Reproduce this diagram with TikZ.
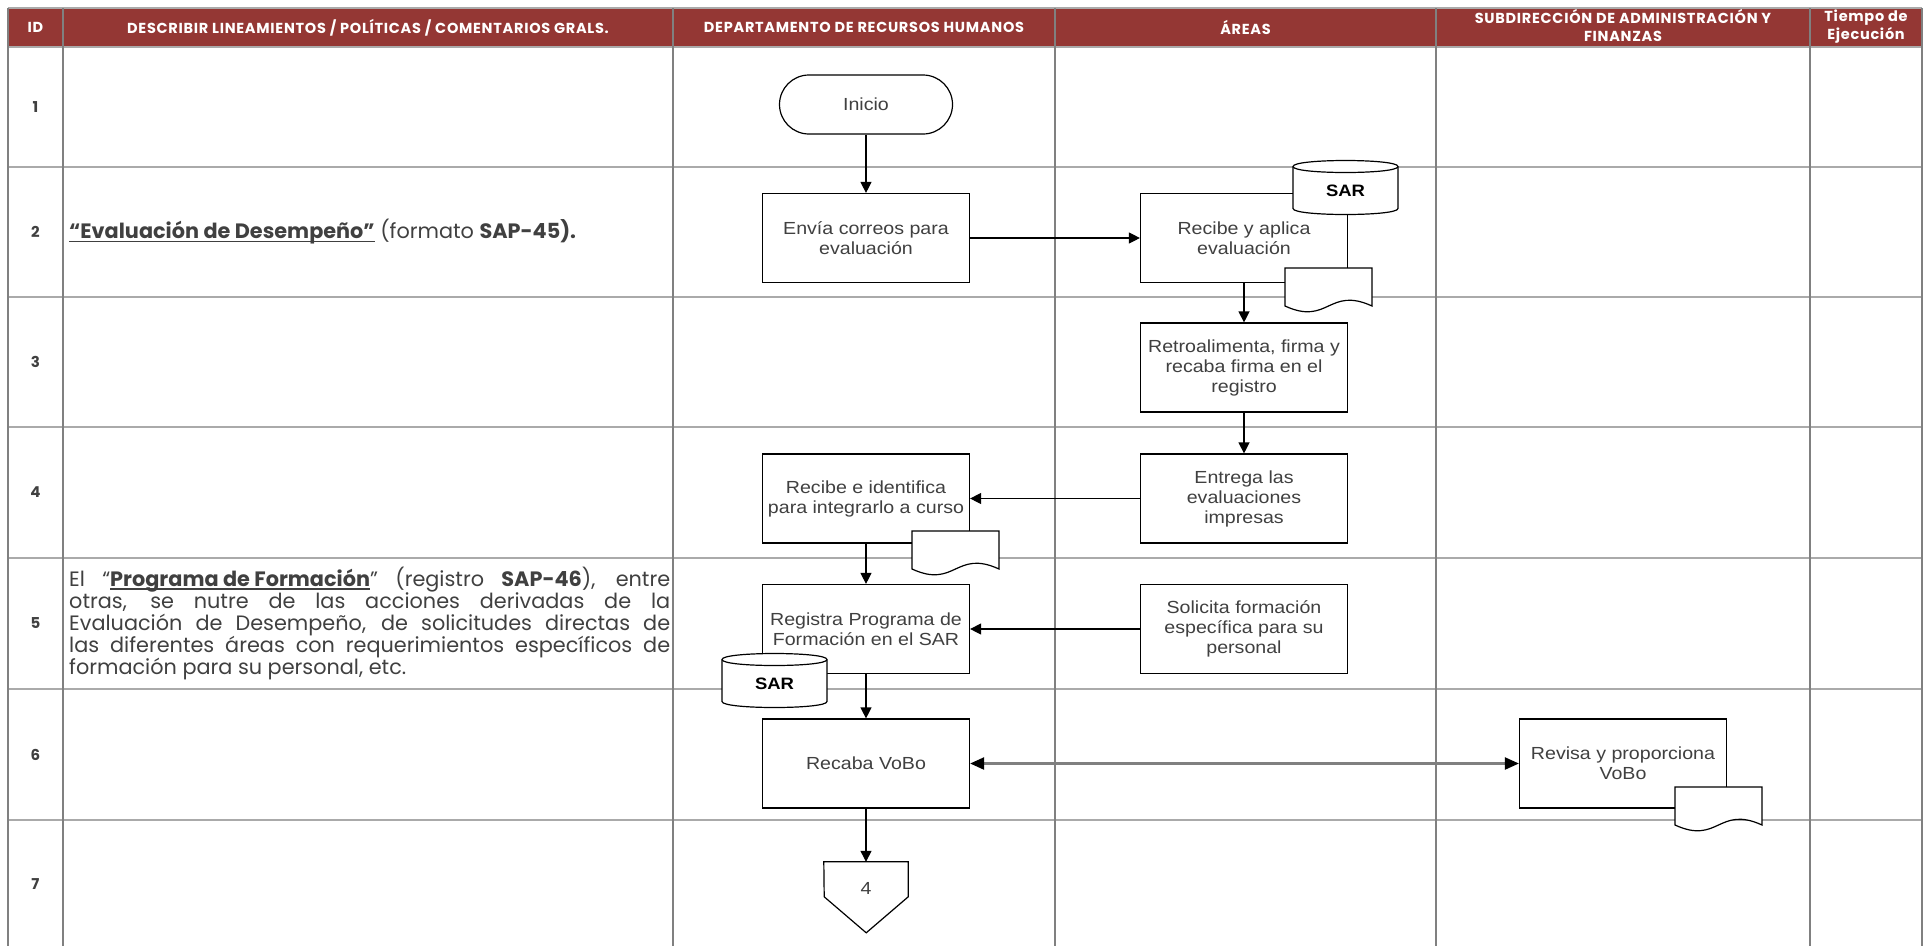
\documentclass[tikz,border=0pt]{standalone}
\usepackage{fontspec}
\usetikzlibrary{positioning,calc,arrows.meta}
\newfontfamily\gothfont{Poppins}
\newfontfamily\hdrfont[LetterSpace=5]{Poppins}
\newfontfamily\flowfont[FakeStretch=1.12]{Liberation Sans}
\definecolor{hdrred}{RGB}{148,55,52}
\definecolor{gridgray}{RGB}{128,128,128}
\definecolor{rowgray}{RGB}{170,170,170}
\definecolor{txtgray}{RGB}{64,64,64}
% underline that sits just under the baseline
\newcommand\ulbold[1]{\setbox0=\hbox{\textbf{#1}}\rlap{\rule[-3pt]{\wd0}{1.3pt}}\box0\relax}

\begin{document}
\begin{tikzpicture}[
  x=1pt, y=-1pt,
  font=\flowfont\fontsize{17.5}{20}\selectfont,
  colline/.style={gridgray, line width=1.2pt},
  rowline/.style={rowgray, line width=1.6pt},
  hdr/.style={text=white, font=\hdrfont\bfseries\fontsize{14.5}{18}\selectfont, align=center, inner sep=0pt},
  idnum/.style={text=txtgray, font=\gothfont\bfseries\fontsize{15}{18}\selectfont, inner sep=0pt},
  desc/.style={text=txtgray, font=\gothfont\fontsize{20.8}{22}\selectfont, anchor=west, inner sep=0pt},
  outl/.style={draw=black, line width=1.2pt, fill=white},
  proc/.style={outl, text=txtgray, align=center, minimum width=207pt, minimum height=89pt, inner sep=1pt},
  term/.style={proc, rounded corners=29.5pt, minimum width=173pt, minimum height=59pt},
  offp/.style={text=txtgray, minimum width=84pt, minimum height=52pt, inner sep=0pt},
  dblabel/.style={text=black, font=\flowfont\bfseries\fontsize{16.5}{20}\selectfont, inner sep=0pt},
  arr/.style={-{Triangle[length=11pt, width=11pt]}, black, line width=1.2pt},
  dblarr/.style={{Triangle[length=14pt, width=12pt, color=black]}-{Triangle[length=14pt, width=12pt, color=black]}, black!50, line width=2.2pt},
  pics/sarcyl/.style={code={
    \draw[outl] (-52.5,-21) -- (-52.5,21) .. controls (-52.5,29) and (52.5,29) .. (52.5,21)
      -- (52.5,-21) .. controls (52.5,-29) and (-52.5,-29) .. (-52.5,-21) -- cycle;
    \draw[outl, fill=none] (-52.5,-21) .. controls (-52.5,-13) and (52.5,-13) .. (52.5,-21);
    \node[dblabel] (-lbl) at (0,3) {SAR};
  }},
  pics/docpage/.style={code={
    \draw[outl] (-43.5,-19) -- (43.5,-19) -- (43.5,19) .. controls (0,-1) and (0,39) .. (-43.5,19) -- cycle;
  }},
]
\useasboundingbox (0,0) rectangle (1929,946);
% ---- header band ----
\fill[hdrred] (8,8) rectangle (1922,47);
\node[hdr] (hid) at (35.5,27.5) {ID};
\node[hdr] (hdesc) at (368,27.5) {DESCRIBIR LINEAMIENTOS / POLÍTICAS / COMENTARIOS GRALS.};
\node[hdr] (hrh) at (864,27.5) {DEPARTAMENTO DE RECURSOS HUMANOS};
\node[hdr] (hareas) at (1245.5,27.5) {ÁREAS};
\node[hdr] (hsaf) at (1623,25.5) {SUBDIRECCIÓN DE ADMINISTRACIÓN Y\\ FINANZAS};
\node[hdr] (htiempo) at (1866,26.5) {Tiempo de\\ Ejecución};
% ---- grid ----
\draw[rowline] (8,8) -- (1922,8);
\draw[rowline] (8,47) -- (1922,47);
\draw[rowline] (8,167) -- (1922,167);
\draw[rowline] (8,297) -- (1922,297);
\draw[rowline] (8,427) -- (1922,427);
\draw[rowline] (8,558) -- (1922,558);
\draw[rowline] (8,689) -- (1922,689);
\draw[rowline] (8,820) -- (1922,820);
\draw[colline] (8,8) -- (8,946);
\draw[colline] (63,8) -- (63,946);
\draw[colline] (673,8) -- (673,946);
\draw[colline] (1055,8) -- (1055,946);
\draw[colline] (1436,8) -- (1436,946);
\draw[colline] (1810,8) -- (1810,946);
\draw[colline] (1922,8) -- (1922,946);
% ---- step numbers ----
\node[idnum] (id1) at (35.5,107) {1};
\node[idnum] (id2) at (35.5,232) {2};
\node[idnum] (id3) at (35.5,362) {3};
\node[idnum] (id4) at (35.5,492.5) {4};
\node[idnum] (id5) at (35.5,623.5) {5};
\node[idnum] (id6) at (35.5,754.5) {6};
\node[idnum] (id7) at (35.5,884) {7};
% ---- policy notes ----
\node[desc] (d2) at (69,232) {\ulbold{“Evaluación de Desempeño”} (formato \textbf{SAP-45).}};
\node[desc, align=left] (d5) at (69,623.5) {\makebox[601pt][s]{El “\ulbold{Programa de Formación}” (registro \textbf{SAP-46}), entre}\\
  \makebox[601pt][s]{otras, se nutre de las acciones derivadas de la}\\
  \makebox[601pt][s]{Evaluación de Desempeño, de solicitudes directas de}\\
  \makebox[601pt][s]{las diferentes áreas con requerimientos específicos de}\\
  formación para su personal, etc.};
% ---- flow ----
\node[term] (inicio) at (866,104.5) {Inicio};
\node[proc] (envia) at (866,238) {Envía correos para\\ evaluación};
\node[proc] (recibe) at (1244,238) {Recibe y aplica\\ evaluación};
\node[proc] (retro) at (1244,367.5) {Retroalimenta, firma y\\ recaba firma en el\\ registro};
\node[proc] (entrega) at (1244,498.5) {Entrega las\\ evaluaciones\\ impresas};
\node[proc] (identif) at (866,498.5) {Recibe e identifica\\ para integrarlo a curso};
\node[proc] (registra) at (866,629) {Registra Programa de\\ Formación en el SAR};
\node[proc] (solicita) at (1244,629) {Solicita formación\\ específica para su\\ personal};
\node[proc] (recaba) at (866,763.5) {Recaba VoBo};
\node[proc] (revisa) at (1623,763.5) {Revisa y proporciona\\ VoBo};
\node[offp] (off4) at (866,888) {4};
\draw[outl, fill=none] (off4.north west) -- (off4.north east) -- ++(0,35) -- ++(-42,36) -- ++(-42,-36) -- cycle;
% records and system
\pic (sar1) at (1345.5,187.5) {sarcyl};
\pic (doc1) at (1328.5,287) {docpage};
\pic (doc2) at (955.5,550) {docpage};
\pic (sar2) at (774.5,680.5) {sarcyl};
\pic (doc3) at (1718.5,806) {docpage};
% ---- arrows ----
\draw[arr] (inicio) -- (envia);
\draw[arr] (envia) -- (recibe);
\draw[arr] (recibe) -- (retro);
\draw[arr] (retro) -- (entrega);
\draw[arr] (entrega) -- (identif);
\draw[arr] (identif) -- (registra);
\draw[arr] (solicita) -- (registra);
\draw[arr] (registra) -- (recaba);
\draw[dblarr] (recaba) -- (revisa);
\draw[arr] (recaba) -- (off4.north);
\end{tikzpicture}
\end{document}
